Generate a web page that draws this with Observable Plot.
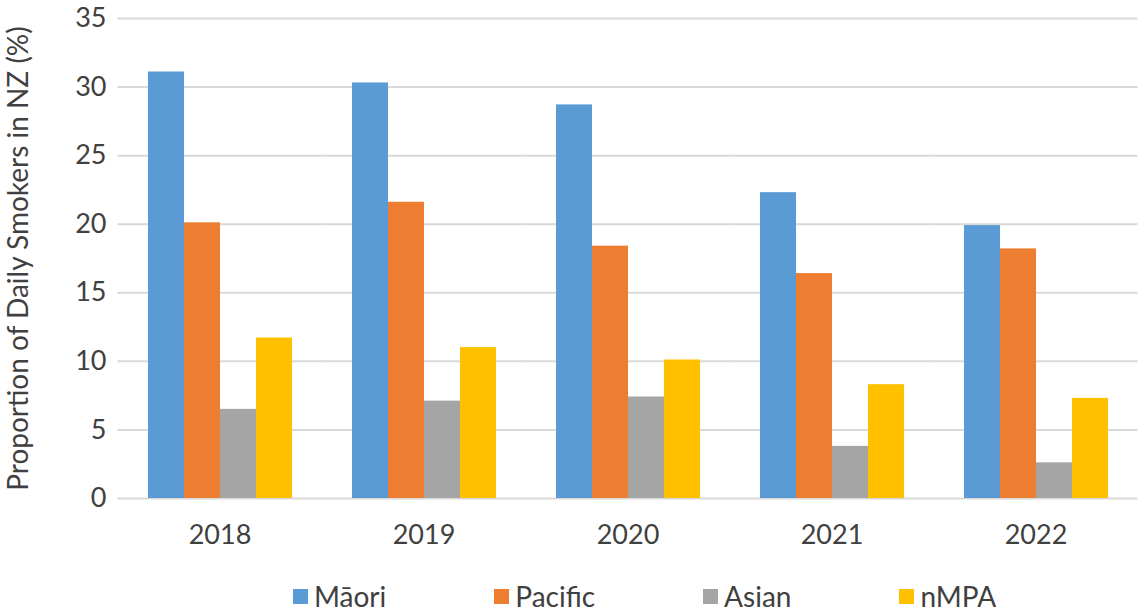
<!DOCTYPE html>
<html>
<head>
<meta charset="utf-8">
<script src="https://cdn.jsdelivr.net/npm/d3@7"></script>
<script src="https://cdn.jsdelivr.net/npm/@observablehq/plot@0.6"></script>
<style>
  body { margin: 0; background: #fff; font-family: Lato, sans-serif; }
  #chart { position: relative; width: 1140px; height: 612px; }
  .legend { position: absolute; left: 293px; top: 579px; display: flex; gap: 108px; font-size: 28px; color: #404040; }
  .legend .item { display: flex; align-items: center; }
  .legend .sw { width: 15px; height: 15px; margin-right: 6px; }
</style>
</head>
<body>
<div id="chart"></div>
<script>
// Daily smoking prevalence in New Zealand by ethnic group, 2018–2022
const years = ["2018", "2019", "2020", "2021", "2022"];
const groups = ["Māori", "Pacific", "Asian", "nMPA"];
const maori = [31.1, 30.3, 28.7, 22.3, 19.9];
const pacific = [20.1, 21.6, 18.4, 16.4, 18.2];
const asian = [6.5, 7.1, 7.4, 3.8, 2.6];
const nmpa = [11.7, 11.0, 10.1, 8.3, 7.3];
const colors = ["#5B9BD5", "#ED7D31", "#A5A5A5", "#FFC000"];
const yTicks = [0, 5, 10, 15, 20, 25, 30, 35];
const yLabel = "Proportion of Daily Smokers in NZ (%)";

// long table: one row per year × group
const series = [maori, pacific, asian, nmpa];
const rows = years.flatMap((year, i) =>
  groups.map((group, j) => ({ year, group, value: series[j][i] }))
);

// gridlines are repeated in each year panel and stretched over the gaps between panels
const panelGap = 28.5;

const chart = Plot.plot({
  width: 1140,
  height: 565,
  marginLeft: 116,
  marginRight: 0,
  marginTop: 18,
  marginBottom: 67,
  style: { fontFamily: "Lato, sans-serif", fontSize: "27px", color: "#404040", background: "#fff" },
  fx: { domain: years, paddingInner: 0.278, paddingOuter: 0.139, label: null },
  x: { domain: groups, padding: 0, axis: null },
  y: { domain: [0, 35] },
  color: { domain: groups, range: colors },
  marks: [
    Plot.ruleY(yTicks, { stroke: "#d9d9d9", strokeWidth: 2, insetLeft: -panelGap, insetRight: -panelGap }),
    Plot.barY(rows, { fx: "year", x: "group", y: "value", fill: "group" }),
    // the y axis sits on the first year panel, so its offsets are measured from that panel's edge
    Plot.axisY(yTicks, {
      tickSize: 0,
      tickPadding: 40,
      label: null
    }),
    Plot.axisY({
      ticks: [],
      tickSize: 0,
      label: yLabel,
      labelAnchor: "center",
      labelOffset: 138,
      labelArrow: false,
      fontSize: 28
    }),
    Plot.axisFx({ anchor: "bottom", tickSize: 0, tickPadding: 26, label: null })
  ]
});

const root = document.getElementById("chart");
root.appendChild(chart);

// legend row below the plot
const legend = document.createElement("div");
legend.className = "legend";
groups.forEach((g, i) => {
  const item = document.createElement("div");
  item.className = "item";
  const sw = document.createElement("span");
  sw.className = "sw";
  sw.style.background = colors[i];
  const label = document.createElement("span");
  label.textContent = g;
  item.append(sw, label);
  legend.appendChild(item);
});
root.appendChild(legend);
</script>
</body>
</html>
